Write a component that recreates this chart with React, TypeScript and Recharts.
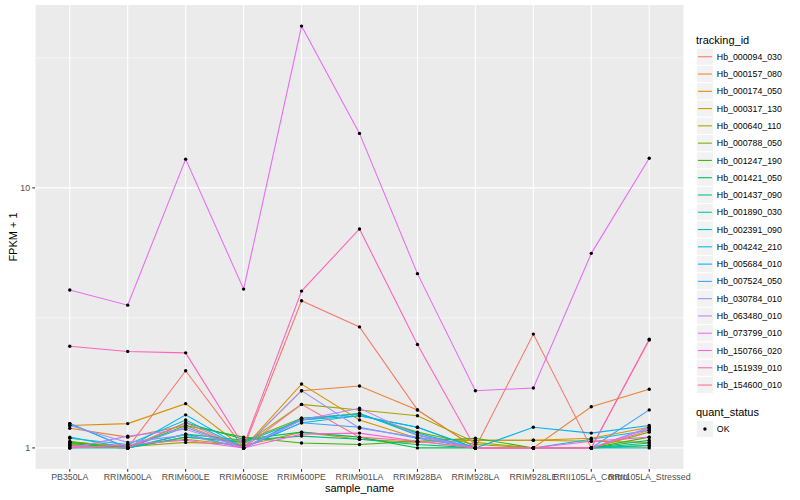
import React from "react";
import { LineChart, Line, XAxis, YAxis, CartesianGrid, ReferenceLine } from "recharts";

const categories = [
  "PB350LA", "RRIM600LA", "RRIM600LE", "RRIM600SE", "RRIM600PE", "RRIM901LA",
  "RRIM928BA", "RRIM928LA", "RRIM928LE", "RRII105LA_Control", "RRII105LA_Stressed",
];

const trackingIds = [
  "Hb_000094_030", "Hb_000157_080", "Hb_000174_050", "Hb_000317_130", "Hb_000640_110",
  "Hb_000788_050", "Hb_001247_190", "Hb_001421_050", "Hb_001437_090", "Hb_001890_030",
  "Hb_002391_090", "Hb_004242_210", "Hb_005684_010", "Hb_007524_050", "Hb_030784_010",
  "Hb_063480_010", "Hb_073799_010", "Hb_150766_020", "Hb_151939_010", "Hb_154600_010",
];

const seriesColors = [
  "#F8766D", "#EA8331", "#D89000", "#C09B00", "#A3A500", "#7CAE00", "#39B600", "#00BB4E",
  "#00BF7D", "#00C1A3", "#00BFC4", "#00BAE0", "#00B0F6", "#35A2FF", "#9590FF", "#C77CFF",
  "#E76BF3", "#FA62DB", "#FF62BC", "#FF6C91",
];

// FPKM + 1 values, one array per tracking_id, in category order
const hb000094_030 = [1.02, 1.0, 1.98, 1.0, 3.68, 2.92, 1.4, 1.0, 2.74, 1.0, 2.6];
const hb000157_080 = [1.19, 1.1, 1.22, 1.0, 1.66, 1.73, 1.4, 1.0, 1.0, 1.44, 1.68];
const hb000174_050 = [1.22, 1.24, 1.48, 1.0, 1.76, 1.28, 1.09, 1.07, 1.07, 1.09, 1.2];
const hb000317_130 = [1.05, 1.02, 1.08, 1.02, 1.15, 1.08, 1.05, 1.07, 1.07, 1.06, 1.05];
const hb000640_110 = [1.03, 1.01, 1.05, 1.03, 1.47, 1.4, 1.33, 1.05, 1.0, 1.0, 1.02];
const hb000788_050 = [1.06, 1.0, 1.1, 1.06, 1.3, 1.35, 1.15, 1.03, 1.0, 1.0, 1.15];
const hb001247_190 = [1.05, 1.0, 1.22, 1.1, 1.045, 1.03, 1.06, 1.09, 1.0, 1.0, 1.1];
const hb001421_050 = [1.04, 1.0, 1.25, 1.08, 1.15, 1.1, 1.0, 1.0, 1.0, 1.0, 1.07];
const hb001437_090 = [1.02, 1.0, 1.13, 1.07, 1.11, 1.08, 1.03, 1.0, 1.0, 1.0, 1.045];
const hb001890_030 = [1.0, 1.0, 1.1, 1.05, 1.28, 1.36, 1.12, 1.0, 1.0, 1.0, 1.024];
const hb002391_090 = [1.1, 1.0, 1.13, 1.0, 1.25, 1.33, 1.2, 1.0, 1.0, 1.0, 1.0];
const hb004242_210 = [1.09, 1.03, 1.28, 1.0, 1.3, 1.35, 1.14, 1.0, 1.0, 1.08, 1.17];
const hb005684_010 = [1.24, 1.0, 1.34, 1.0, 1.28, 1.33, 1.2, 1.0, 1.2, 1.14, 1.22];
const hb007524_050 = [1.24, 1.0, 1.2, 1.0, 1.25, 1.2, 1.09, 1.0, 1.0, 1.0, 1.4];
const hb030784_010 = [1.22, 1.05, 1.12, 1.0, 1.66, 1.19, 1.1, 1.0, 1.0, 1.0, 1.19];
const hb063480_010 = [1.0, 1.11, 1.18, 1.0, 1.28, 1.42, 1.12, 1.0, 1.0, 1.0, 1.2];
const hb073799_010 = [4.05, 3.54, 12.9, 4.08, 41.9, 16.2, 4.68, 1.66, 1.7, 5.6, 13.0];
const hb150766_020 = [1.0, 1.03, 1.07, 1.0, 1.13, 1.14, 1.06, 1.0, 1.0, 1.06, 1.1];
const hb151939_010 = [2.46, 2.35, 2.32, 1.02, 4.01, 6.95, 2.5, 1.0, 1.0, 1.0, 2.62];
const hb154600_010 = [1.02, 1.0, 1.25, 1.0, 1.47, 1.1, 1.06, 1.0, 1.0, 1.0, 1.17];

const seriesValues = [
  hb000094_030, hb000157_080, hb000174_050, hb000317_130, hb000640_110,
  hb000788_050, hb001247_190, hb001421_050, hb001437_090, hb001890_030,
  hb002391_090, hb004242_210, hb005684_010, hb007524_050, hb030784_010,
  hb063480_010, hb073799_010, hb150766_020, hb151939_010, hb154600_010,
];

const yTicks = [1, 10];
const yMinorGrid = [Math.sqrt(10), Math.pow(10, 1.5)];
const xTicks = categories.map((_, i) => i);

// ggplot-style expansion: 5% of the log range on y, 0.6 units on discrete x
const allVals = seriesValues.flat();
const logMin = Math.log10(Math.min(...allVals));
const logMax = Math.log10(Math.max(...allVals));
const logPad = (logMax - logMin) * 0.05;
const yDomain = [Math.pow(10, logMin - logPad), Math.pow(10, logMax + logPad)];
const xDomain = [-0.6, categories.length - 1 + 0.6];

const data = categories.map((name, i) => {
  const row: Record<string, number | string> = { idx: i, name };
  trackingIds.forEach((id, s) => {
    row[id] = seriesValues[s][i];
  });
  return row;
});

const FONT = "'Liberation Sans', Arial, Helvetica, sans-serif";

const renderDot = (props: any) => {
  const { cx, cy, key } = props;
  if (cx == null || cy == null) return <g key={key} />;
  return <circle key={key} cx={cx} cy={cy} r={1.7} fill="#000000" stroke="none" />;
};

const Legend = () => {
  const keyX = 696.3;
  const keySize = 17.28;
  const firstTop = 48.1;
  return (
    <svg
      width={800}
      height={500}
      style={{ position: "absolute", left: 0, top: 0, pointerEvents: "none" }}
    >
      <text x={696} y={44} fontSize={11} fontFamily={FONT} fill="#000000">
        tracking_id
      </text>
      {trackingIds.map((id, i) => {
        const top = firstTop + keySize * i;
        const cy = top + keySize / 2;
        return (
          <g key={id}>
            <rect x={keyX} y={top} width={keySize} height={keySize} fill="#F2F2F2" stroke="#FFFFFF" strokeWidth={1} />
            <line x1={keyX + 1.7} x2={keyX + keySize - 1.7} y1={cy} y2={cy} stroke={seriesColors[i]} strokeWidth={1.07} />
            <text x={716.8} y={cy + 3.1} fontSize={8.8} fontFamily={FONT} fill="#000000">
              {id}
            </text>
          </g>
        );
      })}
      <text x={696} y={416} fontSize={11} fontFamily={FONT} fill="#000000">
        quant_status
      </text>
      <rect x={keyX} y={420.4} width={keySize} height={keySize} fill="#F2F2F2" stroke="#FFFFFF" strokeWidth={1} />
      <circle cx={keyX + keySize / 2} cy={429} r={1.7} fill="#000000" />
      <text x={716.8} y={432.1} fontSize={8.8} fontFamily={FONT} fill="#000000">
        OK
      </text>
    </svg>
  );
};

export default function App() {
  return (
    <div style={{ position: "absolute", left: 0, top: 0, width: 800, height: 500, background: "#FFFFFF" }}>
      <LineChart
        width={800}
        height={500}
        data={data}
        margin={{ top: 5, right: 116, bottom: 0, left: 0 }}
        style={{ fontFamily: FONT }}
      >
        <CartesianGrid fill="#EBEBEB" stroke="#FFFFFF" strokeWidth={1.07} horizontal={false} vertical={true} />
        {yMinorGrid.map((v) => (
          <ReferenceLine key={`minor-${v}`} y={v} stroke="#FFFFFF" strokeWidth={0.53} ifOverflow="hidden" />
        ))}
        {yTicks.map((v) => (
          <ReferenceLine key={`major-${v}`} y={v} stroke="#FFFFFF" strokeWidth={1.07} ifOverflow="hidden" />
        ))}
        <XAxis
          dataKey="idx"
          type="number"
          domain={xDomain}
          ticks={xTicks}
          interval={0}
          allowDataOverflow
          tickFormatter={(v: number) => categories[v] ?? ""}
          height={31}
          axisLine={false}
          tickLine={{ stroke: "#333333", strokeWidth: 1.07 }}
          tickSize={2.75}
          tickMargin={2.2}
          tick={{ fill: "#4D4D4D", fontSize: 8.8, fontFamily: FONT }}
          label={(props: any) => {
            const vb = props.viewBox || {};
            return (
              <text
                x={vb.x + vb.width / 2}
                y={vb.y + 23}
                textAnchor="middle"
                fontSize={11}
                fontFamily={FONT}
                fill="#000000"
              >
                sample_name
              </text>
            );
          }}
        />
        <YAxis
          type="number"
          scale="log"
          domain={yDomain}
          ticks={yTicks}
          allowDataOverflow
          width={35}
          axisLine={false}
          tickLine={{ stroke: "#333333", strokeWidth: 1.07 }}
          tickSize={2.75}
          tickMargin={2.2}
          tick={{ fill: "#4D4D4D", fontSize: 8.8, fontFamily: FONT }}
          label={(props: any) => {
            const vb = props.viewBox || {};
            const x = vb.x + 16.5;
            const y = vb.y + vb.height / 2;
            return (
              <text
                x={x}
                y={y}
                transform={`rotate(-90 ${x} ${y})`}
                textAnchor="middle"
                fontSize={11}
                fontFamily={FONT}
                fill="#000000"
              >
                FPKM + 1
              </text>
            );
          }}
        />
        {trackingIds.map((id, i) => (
          <Line
            key={`line-${id}`}
            dataKey={id}
            type="linear"
            stroke={seriesColors[i]}
            strokeWidth={1.07}
            dot={false}
            activeDot={false}
            isAnimationActive={false}
          />
        ))}
        {trackingIds.map((id) => (
          <Line
            key={`pts-${id}`}
            dataKey={id}
            type="linear"
            stroke="none"
            strokeWidth={0}
            dot={renderDot}
            activeDot={false}
            legendType="none"
            isAnimationActive={false}
          />
        ))}
      </LineChart>
      <Legend />
    </div>
  );
}
